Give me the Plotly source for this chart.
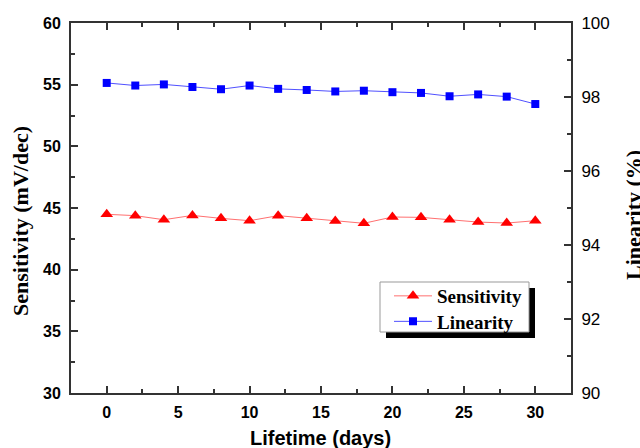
import plotly.graph_objects as go

days = [0, 2, 4, 6, 8, 10, 12, 14, 16, 18, 20, 22, 24, 26, 28, 30]
sensitivity = [44.49, 44.38, 44.05, 44.40, 44.16, 43.97, 44.38, 44.16,
               43.94, 43.76, 44.27, 44.24, 44.05, 43.86, 43.78, 43.97]
linearity = [98.38, 98.31, 98.34, 98.27, 98.21, 98.31, 98.22, 98.19,
             98.15, 98.17, 98.13, 98.11, 98.02, 98.07, 98.01, 97.81]

SANS = "Liberation Sans, Arial, sans-serif"
SERIF = "Liberation Serif, Times New Roman, serif"
AX = "#333333"

W, H = 640, 448
L, R, T, B = 71, 571, 23, 393

def px(x):
    return (x - L) / (R - L)

def py(y):
    return (B - y) / (B - T)

fig = go.Figure()
fig.add_trace(go.Scatter(
    x=days, y=sensitivity, name="Sensitivity", mode="lines+markers",
    line=dict(color="#ff7070", width=1),
    marker=dict(symbol="triangle-up", size=11, color="#ff0000"),
    yaxis="y", legend="legend"))
fig.add_trace(go.Scatter(
    x=days, y=linearity, name="Linearity", mode="lines+markers",
    line=dict(color="#5050ff", width=1),
    marker=dict(symbol="square", size=8, color="#0000ff"),
    yaxis="y2", legend="legend2"))

common = dict(
    showline=True, linecolor=AX, linewidth=2,
    ticks="inside", ticklen=7, tickwidth=2, tickcolor=AX,
    showgrid=False, zeroline=False, automargin=False,
)

leg_common = dict(
    xanchor="left", yanchor="middle",
    bgcolor="rgba(0,0,0,0)", borderwidth=0,
    font=dict(family=SERIF, size=19, color="black", weight="bold"),
    itemwidth=38,
)

fig.update_layout(
    template="none",
    width=W, height=H,
    margin=dict(l=L, r=W - R, t=T, b=H - B, pad=0),
    paper_bgcolor="white", plot_bgcolor="white",
    showlegend=True,
    legend=dict(x=px(389), y=py(296), **leg_common),
    legend2=dict(x=px(389), y=py(321.5), **leg_common),
    xaxis=dict(
        range=[-2.5, 32.5], tickmode="linear", tick0=0, dtick=5,
        mirror="ticks",
        minor=dict(dtick=2.5, ticklen=4, tickwidth=2, ticks="inside", tickcolor=AX),
        tickfont=dict(family=SANS, size=16, color="black", weight="bold"),
        ticklabelstandoff=4, **common,
    ),
    yaxis=dict(
        range=[30, 60], tickmode="linear", tick0=30, dtick=5,
        minor=dict(dtick=2.5, ticklen=4, tickwidth=2, ticks="inside", tickcolor=AX),
        tickfont=dict(family=SANS, size=16, color="black", weight="bold"),
        ticklabelstandoff=5, **common,
    ),
    yaxis2=dict(
        range=[90, 100], tickmode="linear", tick0=90, dtick=2,
        overlaying="y", side="right",
        minor=dict(dtick=1, ticklen=4, tickwidth=2, ticks="inside", tickcolor=AX),
        tickfont=dict(family=SANS, size=17, color="black"),
        ticklabelstandoff=5, **common,
    ),
    shapes=[
        dict(type="rect", xref="paper", yref="paper",
             x0=px(386), x1=px(535), y0=py(338), y1=py(288),
             fillcolor="black", line=dict(width=0), layer="above"),
        dict(type="rect", xref="paper", yref="paper",
             x0=px(380), x1=px(529), y0=py(332), y1=py(282),
             fillcolor="white", line=dict(color="#999999", width=1), layer="above"),
    ],
    annotations=[
        dict(text="Lifetime (days)", xref="paper", yref="paper",
             x=px(320), y=py(438), xanchor="center", yanchor="middle",
             showarrow=False,
             font=dict(family=SANS, size=20, color="black", weight="bold")),
        dict(text="Sensitivity (mV/dec)", xref="paper", yref="paper",
             x=px(20), y=py(221), xanchor="center", yanchor="middle",
             textangle=-90, showarrow=False,
             font=dict(family=SERIF, size=22, color="black", weight="bold")),
        dict(text="Linearity (%)", xref="paper", yref="paper",
             x=px(633), y=py(215), xanchor="center", yanchor="middle",
             textangle=-90, showarrow=False,
             font=dict(family=SERIF, size=22, color="black", weight="bold")),
    ],
)

fig.write_html("out.html", config={"displayModeBar": False})

# remove the default 8px body margin so the figure sits at the window origin
with open("out.html", "r", encoding="utf-8") as f:
    html = f.read()
html = html.replace("<body>", '<body style="margin:0;padding:0;">', 1)
with open("out.html", "w", encoding="utf-8") as f:
    f.write(html)
